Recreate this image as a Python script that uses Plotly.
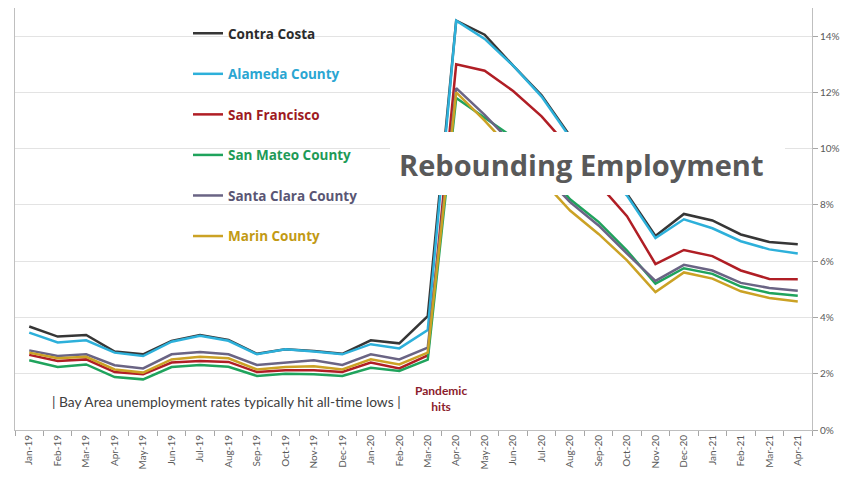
import plotly.graph_objects as go

# months Jan-19 .. Apr-21
months = ["Jan-19", "Feb-19", "Mar-19", "Apr-19", "May-19", "Jun-19", "Jul-19", "Aug-19",
          "Sep-19", "Oct-19", "Nov-19", "Dec-19", "Jan-20", "Feb-20", "Mar-20", "Apr-20",
          "May-20", "Jun-20", "Jul-20", "Aug-20", "Sep-20", "Oct-20", "Nov-20", "Dec-20",
          "Jan-21", "Feb-21", "Mar-21", "Apr-21"]

# unemployment rate, %
contra_costa = [3.68, 3.32, 3.38, 2.79, 2.69, 3.17, 3.38, 3.20, 2.71, 2.87, 2.81, 2.71, 3.19, 3.08,
                4.05, 14.55, 14.05, 12.95, 11.90, 10.45, 9.45, 8.40, 6.90, 7.68, 7.45, 6.95, 6.68, 6.60]
alameda = [3.46, 3.11, 3.19, 2.75, 2.63, 3.14, 3.35, 3.17, 2.69, 2.87, 2.79, 2.69, 3.05, 2.90,
           3.55, 14.55, 13.90, 12.95, 11.85, 10.40, 9.40, 8.33, 6.82, 7.49, 7.17, 6.71, 6.42, 6.27]
san_francisco = [2.67, 2.45, 2.51, 2.06, 1.98, 2.40, 2.45, 2.42, 2.06, 2.12, 2.12, 2.06, 2.40, 2.19,
                 2.65, 13.00, 12.77, 12.05, 11.15, 10.00, 8.75, 7.60, 5.90, 6.40, 6.18, 5.67, 5.37, 5.36]
san_mateo = [2.48, 2.24, 2.33, 1.88, 1.80, 2.24, 2.31, 2.25, 1.92, 2.00, 1.98, 1.92, 2.21, 2.10,
             2.50, 11.80, 11.10, 10.40, 9.40, 8.20, 7.40, 6.38, 5.20, 5.75, 5.55, 5.10, 4.87, 4.77]
santa_clara = [2.83, 2.63, 2.69, 2.30, 2.19, 2.69, 2.77, 2.69, 2.31, 2.39, 2.48, 2.31, 2.69, 2.51,
               2.93, 12.15, 11.20, 10.15, 9.15, 8.10, 7.27, 6.27, 5.30, 5.87, 5.67, 5.23, 5.05, 4.95]
marin = [2.75, 2.55, 2.60, 2.15, 2.04, 2.51, 2.60, 2.55, 2.15, 2.24, 2.27, 2.15, 2.51, 2.33,
         2.75, 12.00, 11.00, 9.90, 8.90, 7.80, 6.97, 6.03, 4.90, 5.60, 5.38, 4.93, 4.69, 4.57]

series = [
    ("Contra Costa", contra_costa, "#363636", "#2b2b2b"),
    ("Alameda County", alameda, "#2DB0DA", "#2AA6D2"),
    ("San Francisco", san_francisco, "#B01E25", "#9E1A22"),
    ("San Mateo County", san_mateo, "#1FA35C", "#1E9A57"),
    ("Santa Clara County", santa_clara, "#6A6484", "#5A5674"),
    ("Marin County", marin, "#CBA225", "#C29A14"),
]

fig = go.Figure()
for name, vals, line_col, text_col in series:
    fig.add_trace(go.Scatter(
        x=months, y=[v / 100 for v in vals], mode="lines",
        name=f'<span style="color:{text_col}"><b>{name}</b></span>',
        legendgroup=name,
        line=dict(color=line_col, width=2.5),
        hovertemplate=f"{name}<br>%{{x}}: %{{y:.1%}}<extra></extra>",
    ))

# page pixel -> paper helpers (page has an 8px body margin; plot area spans 15..812 x, 8..430 y)
def px(x):
    return (x - 15) / 797

def py(y):
    return (430 - y) / 422

shapes = [
    # white patch behind the legend
    dict(type="rect", xref="paper", yref="paper", x0=px(155), x1=px(390), y0=py(248), y1=py(12),
         fillcolor="white", line=dict(width=0), layer="between"),
    # white box behind the headline
    dict(type="rect", xref="paper", yref="paper", x0=px(390), x1=px(785), y0=py(195), y1=py(132),
         fillcolor="white", line=dict(width=0), layer="above"),
    # outer chart frame
    dict(type="line", xref="paper", yref="paper", x0=px(3.5), x1=px(3.5), y0=py(482), y1=py(8),
         line=dict(color="#D0D0D0", width=1)),
    dict(type="line", xref="paper", yref="paper", x0=px(851.5), x1=px(851.5), y0=py(482), y1=py(8),
         line=dict(color="#D0D0D0", width=1)),
]

annotations = [
    dict(text="<b>Rebounding Employment</b>", xref="paper", yref="paper", x=px(581), y=py(164),
         xanchor="center", yanchor="middle", showarrow=False,
         font=dict(family="Open Sans", size=29, color="#595959")),
    dict(text="| Bay Area unemployment rates typically hit all-time lows |", xref="paper", yref="paper",
         x=px(226), y=py(401), xanchor="center", yanchor="middle", showarrow=False,
         font=dict(family="Lato", size=13.8, color="#404040")),
    dict(text="<b>Pandemic<br>hits</b>", xref="paper", yref="paper", x=px(441), y=py(398),
         xanchor="center", yanchor="middle", showarrow=False,
         font=dict(family="Lato", size=12, color="#8B1C2C")),
]

fig.update_layout(
    width=846, height=474,
    margin=dict(l=7, r=42, t=0, b=52),
    plot_bgcolor="white", paper_bgcolor="white",
    font=dict(family="Lato", color="#595959"),
    showlegend=True,
    legend=dict(x=px(188), y=py(18), xanchor="left", yanchor="top",
                bgcolor="rgba(0,0,0,0)", tracegroupgap=20,
                font=dict(family="Open Sans", size=13.5), itemwidth=30),
    xaxis=dict(type="category", range=[-0.5, len(months) - 0.5], tickangle=-90,
               tickson="boundaries", ticks="outside", ticklen=5,
               tickcolor="#A6A6A6", showline=True, linecolor="#BFBFBF", mirror=True,
               showgrid=False, tickfont=dict(size=10, color="#595959")),
    yaxis=dict(side="right", range=[0, 0.15], dtick=0.02, tickformat=".0%", ticks="outside",
               ticklen=5, tickcolor="#A6A6A6", showline=True, linecolor="#BFBFBF", mirror=True,
               showgrid=True, gridcolor="#E3E3E3", gridwidth=1, zeroline=False,
               tickfont=dict(size=10, color="#595959")),
    shapes=shapes,
    annotations=annotations,
)

fig.write_html("out.html")
